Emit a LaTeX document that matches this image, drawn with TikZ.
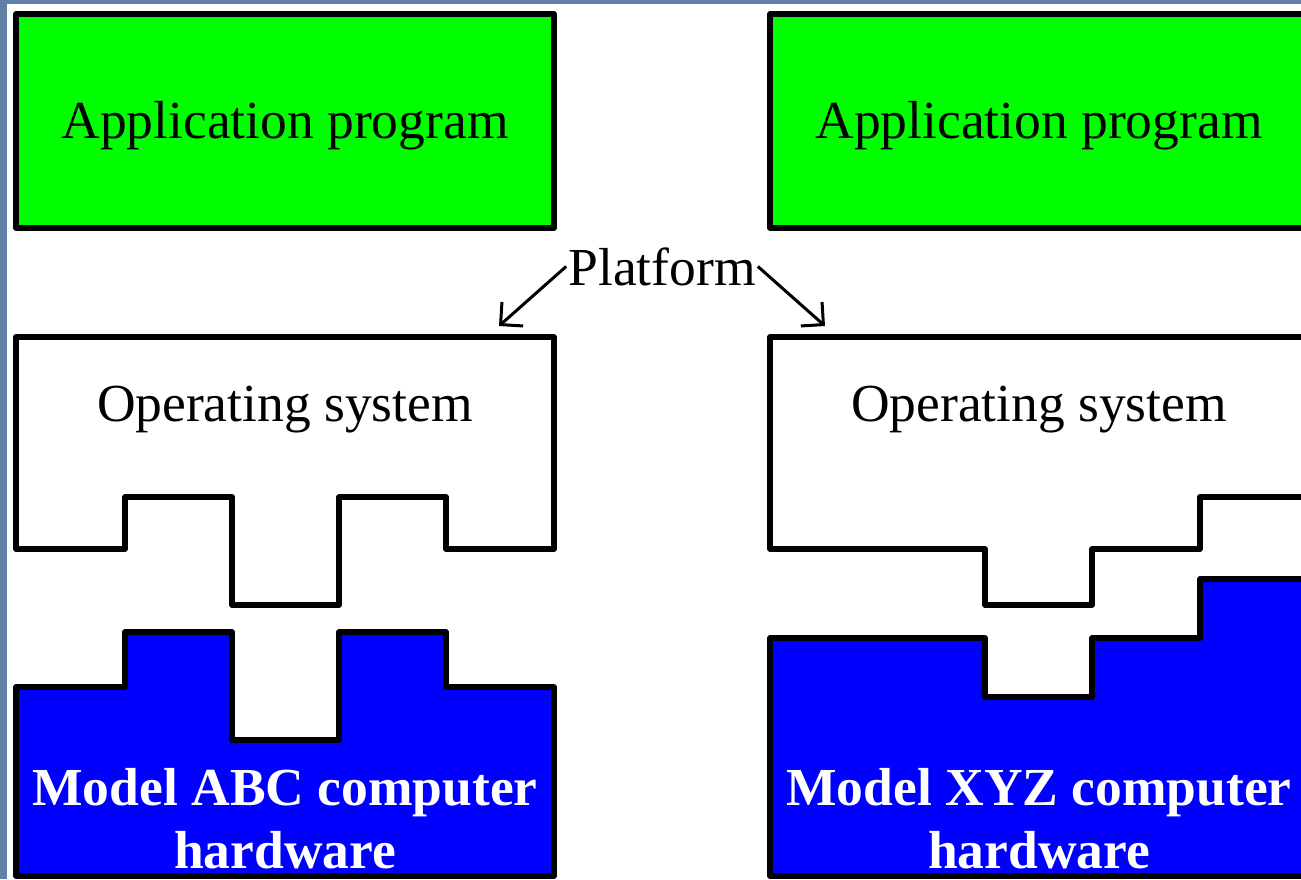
\documentclass[tikz,border=0pt]{standalone}
\usepackage{fontspec}
\setmainfont{Liberation Serif}
\usetikzlibrary{arrows.meta}
\definecolor{bgblue}{RGB}{96,128,168}
\definecolor{appgreen}{RGB}{0,255,0}
\definecolor{hwblue}{RGB}{0,0,255}
\tikzset{
  blk/.style={draw=black,line width=5.5pt,line join=round},
  lbl/.style={inner sep=0pt,anchor=base,font=\fontsize{53.5}{63}\selectfont},
  hwlbl/.style={inner sep=0pt,anchor=base,align=center,text=white,font=\fontsize{53.5}{63}\selectfont\bfseries},
  arr/.style={line width=3pt,-{Straight Barb[length=16pt,width=32pt,line width=3pt]}}
}
\begin{document}
\begin{tikzpicture}[x=1pt,y=-1pt]
\clip (0,0) rectangle (1301,879);
\fill[bgblue] (0,0) rectangle (1301,879);
\fill[white] (7,4) rectangle (1301,879);
% left stack
\draw[blk,fill=appgreen] (16,14) rectangle (554,228);
\draw[blk,fill=white] (16,337) -- (554,337) -- (554,549) -- (446,549) -- (446,497) -- (339,497) -- (339,605) -- (232,605) -- (232,497) -- (125,497) -- (125,549) -- (16,549) -- cycle;
\draw[blk,fill=hwblue] (16,876) -- (16,687) -- (125,687) -- (125,632) -- (232,632) -- (232,740) -- (339,740) -- (339,632) -- (446,632) -- (446,687) -- (554,687) -- (554,876) -- cycle;
% right stack
\draw[blk,fill=appgreen] (770,14) rectangle (1320,228);
\draw[blk,fill=white] (1320,337) -- (770,337) -- (770,549) -- (985,549) -- (985,605) -- (1092,605) -- (1092,549) -- (1200,549) -- (1200,497) -- (1320,497);
\draw[blk,fill=hwblue] (1320,876) -- (770,876) -- (770,638) -- (985,638) -- (985,697) -- (1092,697) -- (1092,638) -- (1200,638) -- (1200,579) -- (1320,579);
% labels
\node[lbl] (appL) at (285,138) {Application program};
\node[lbl] (appR) at (1039,138) {Application program};
\node[lbl] (osL) at (285,421) {Operating system};
\node[lbl] (osR) at (1039,421) {Operating system};
\node[hwlbl] (hwL) at (285,868) {Model ABC computer\\hardware};
\node[hwlbl] (hwR) at (1039,868) {Model XYZ computer\\hardware};
\node[lbl] (plat) at (662,285) {Platform};
\coordinate (tipL) at (499,326);
\coordinate (tipR) at (825,326);
\draw[arr] (plat.west) ++(-2,0) -- (tipL);
\draw[arr] (plat.east) ++(2,0) -- (tipR);
\end{tikzpicture}
\end{document}
